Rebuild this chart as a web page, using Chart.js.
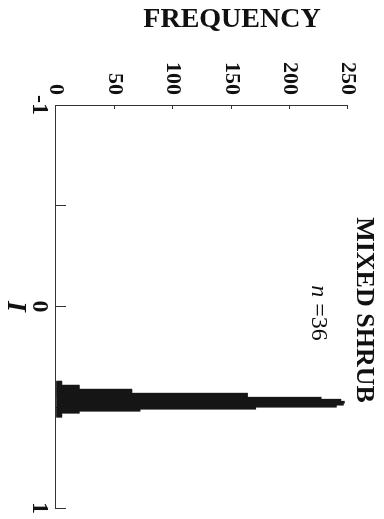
<!DOCTYPE html>
<html lang="en">
<head>
    <meta charset="UTF-8">
    <title>Mixed shrub - frequency of I</title>
    <script src="https://cdn.jsdelivr.net/npm/chart.js"></script>
    <style>
        html, body {
            margin: 0;
            padding: 0;
            background: #ffffff;
            overflow: hidden;
        }
        /* the figure is printed turned a quarter turn clockwise */
        #wrap {
            position: absolute;
            left: 0;
            top: 0;
            width: 519px;
            height: 384px;
            transform-origin: 0 0;
            transform: translate(384px, 0) rotate(90deg);
        }
    </style>
</head>
<body>
    <div id="wrap">
        <canvas id="histChart" width="519" height="384"></canvas>
    </div>

    <script>
        // histogram bins of I (left edge of each 0.01 bin) and their counts
        const binWidth = 0.01;
        const binLeft = [0.37, 0.38, 0.39, 0.40, 0.41, 0.42, 0.43, 0.44, 0.45,
                         0.46, 0.47, 0.48, 0.49, 0.50, 0.51, 0.52, 0.53, 0.54];
        const frequency = [5, 5, 20, 20, 65, 65, 164, 164, 227,
                           244, 247, 246, 240, 171, 72, 20, 5, 5];

        const iTickLabels = [-1, 0, 1];
        const freqTickLabels = [0, 50, 100, 150, 200, 250];

        const panelTitle = 'MIXED SHRUB';
        const sampleSize = '=36';
        const yTitle = 'FREQUENCY';
        const xTitle = 'I';

        const serif = "'Liberation Serif', 'Times New Roman', serif";

        // titles and the sample size are placed by hand around the plot
        const textPlugin = {
            id: 'panelText',
            afterDraw(chart) {
                const ctx = chart.ctx;
                const area = chart.chartArea;
                ctx.save();
                ctx.fillStyle = '#111';
                ctx.textBaseline = 'middle';
                ctx.textAlign = 'center';

                ctx.font = 'bold 26px ' + serif;
                ctx.fillText(panelTitle, 310, area.top - 16);

                ctx.font = 'italic 24px ' + serif;
                const nW = ctx.measureText('n ').width;
                ctx.font = '24px ' + serif;
                const restW = ctx.measureText(sampleSize).width;
                const startX = 313 - (nW + restW) / 2;
                ctx.textAlign = 'left';
                ctx.font = 'italic 24px ' + serif;
                ctx.fillText('n', startX, 66);
                ctx.font = '24px ' + serif;
                ctx.fillText(sampleSize, startX + nW, 66);

                ctx.textAlign = 'center';
                ctx.font = 'bold italic 28px ' + serif;
                ctx.fillText(xTitle, (area.left + area.right) / 2, 369);

                ctx.translate(20, 152);
                ctx.rotate(-Math.PI / 2);
                ctx.font = 'bold 28px ' + serif;
                ctx.fillText(yTitle, 0, 0);
                ctx.restore();
            }
        };

        const ctx = document.getElementById('histChart').getContext('2d');
        new Chart(ctx, {
            type: 'bar',
            data: {
                datasets: [{
                    data: binLeft.map((b, i) => ({ x: b + binWidth / 2, y: frequency[i] })),
                    backgroundColor: '#161616',
                    borderWidth: 0,
                    barPercentage: 1,
                    categoryPercentage: 1
                }]
            },
            options: {
                responsive: false,
                animation: false,
                layout: {
                    padding: { left: 0, right: 11, top: 36, bottom: 0 }
                },
                plugins: {
                    legend: { display: false },
                    tooltip: { enabled: false }
                },
                scales: {
                    x: {
                        type: 'linear',
                        position: 'bottom',
                        offset: false,
                        min: -1,
                        max: 1,
                        afterFit: scale => {
                            scale.height = 56;
                            scale.paddingLeft = 0;
                            scale.paddingRight = 0;
                        },
                        grid: {
                            offset: false,
                            drawOnChartArea: false,
                            tickLength: -10,
                            color: '#333'
                        },
                        border: { color: '#333', width: 1 },
                        ticks: {
                            stepSize: 0.5,
                            padding: 12,
                            color: '#111',
                            font: { family: serif, size: 24, weight: 'bold' },
                            callback: v => iTickLabels.includes(v) ? String(v) : ''
                        }
                    },
                    y: {
                        position: 'left',
                        min: 0,
                        max: 250,
                        afterFit: scale => {
                            scale.width = 105;
                            scale.paddingTop = 0;
                            scale.paddingBottom = 0;
                        },
                        grid: {
                            drawOnChartArea: false,
                            tickLength: -4,
                            color: '#333'
                        },
                        border: { color: '#333', width: 1 },
                        ticks: {
                            stepSize: 25,
                            padding: 14,
                            color: '#111',
                            font: { family: serif, size: 22, weight: 'bold' },
                            callback: v => freqTickLabels.includes(v) ? String(v) : ''
                        }
                    }
                }
            },
            plugins: [textPlugin]
        });
    </script>
</body>
</html>
